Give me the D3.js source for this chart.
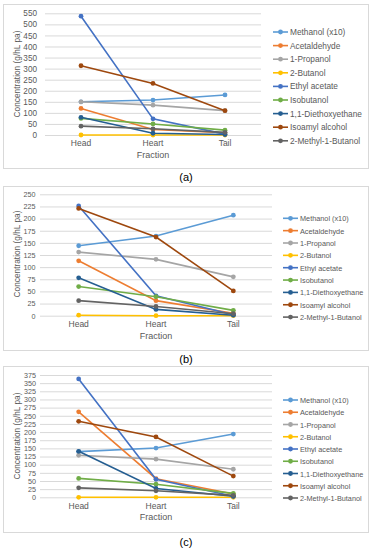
<!DOCTYPE html>
<html><head><meta charset="utf-8">
<script src="https://cdn.jsdelivr.net/npm/d3@7"></script>
<style>body{margin:0;background:#fff;}svg{display:block;}</style>
</head><body>
<svg id="c" width="373" height="550"></svg>
<script>
const fractions = ["Head", "Heart", "Tail"];
const seriesNames = ["Methanol (x10)", "Acetaldehyde", "1-Propanol", "2-Butanol", "Ethyl acetate",
  "Isobutanol", "1,1-Diethoxyethane", "Isoamyl alcohol", "2-Methyl-1-Butanol"];
const colors = ["#5B9BD5", "#ED7D31", "#A5A5A5", "#FFC000", "#4472C4", "#70AD47", "#255E91", "#9E480E", "#636363"];

// Panel (a)
const valuesA = [
  [150, 158, 181],
  [120, 25, 10],
  [150, 135, 110],
  [0, 0, 0],
  [537, 73, 4],
  [75, 50, 22],
  [80, 8, 2],
  [313, 233, 110],
  [40, 28, 12]
];
const ticksA = [0, 50, 100, 150, 200, 250, 300, 350, 400, 450, 500, 550];
// Panel (b)
const valuesB = [
  [144, 164, 207],
  [113, 31, 5],
  [131, 116, 80],
  [1, 0, 0],
  [226, 41, 2],
  [60, 39, 11],
  [78, 13, 1],
  [221, 162, 51],
  [31, 19, 4]
];
const ticksB = [0, 25, 50, 75, 100, 125, 150, 175, 200, 225, 250];
// Panel (c)
const valuesC = [
  [140, 151, 194],
  [262, 57, 10],
  [129, 117, 86],
  [0, 0, 0],
  [363, 55, 3],
  [58, 40, 12],
  [141, 27, 3],
  [233, 185, 65],
  [29, 20, 6]
];
const ticksC = [0, 25, 50, 75, 100, 125, 150, 175, 200, 225, 250, 275, 300, 325, 350, 375];

const panels = [
  {vals: valuesA, ticks: ticksA, label: "(a)", box: [3, 4, 368, 168], px: [45, 261], py: [135, 13.3],
   tickEnd: 37, tickFs: 8.2, legFs: 8.3, legX: 273, legY: 32, legDy: 13.6, catY: 147, fracY: 158, titleY: 74, labY: 181},
  {vals: valuesB, ticks: ticksB, label: "(b)", box: [3, 186, 368, 350], px: [40, 272], py: [315.7, 194.3],
   tickEnd: 35.5, tickFs: 7.2, legFs: 7.3, legX: 283, legY: 218.3, legDy: 12.35, catY: 328, fracY: 339, titleY: 254, labY: 363},
  {vals: valuesC, ticks: ticksC, label: "(c)", box: [3, 366, 368, 532], px: [40, 272], py: [497.3, 375],
   tickEnd: 36, tickFs: 7.2, legFs: 7.3, legX: 283, legY: 400, legDy: 12.25, catY: 509.5, fracY: 520, titleY: 436, labY: 546}
];

const svg = d3.select("#c");
const font = "'Liberation Sans', Arial, sans-serif";
const txt = "#595959";

panels.forEach(p => {
  const g = svg.append("g");
  g.append("rect").attr("x", p.box[0] + 0.5).attr("y", p.box[1] + 0.5)
    .attr("width", p.box[2] - p.box[0]).attr("height", p.box[3] - p.box[1])
    .attr("fill", "#fff").attr("stroke", "#d9d9d9");

  const x = d3.scaleBand().domain(fractions).range(p.px);
  const y = d3.scaleLinear().domain([0, d3.max(p.ticks)]).range(p.py);

  // gridlines
  const yAxis = d3.axisLeft(y).tickValues(p.ticks).tickSize(-(p.px[1] - p.px[0])).tickPadding(p.px[0] - p.tickEnd);
  const ga = g.append("g").attr("transform", `translate(${p.px[0]},0)`).call(yAxis);
  ga.select(".domain").remove();
  ga.selectAll(".tick line").attr("stroke", "#d9d9d9");
  ga.selectAll(".tick text").attr("fill", txt).attr("font-size", p.tickFs).attr("font-family", font);

  // x axis labels
  const xAxis = d3.axisBottom(x).tickSize(0).tickPadding(0);
  const gx = g.append("g").attr("transform", `translate(0,${p.catY - 7})`).call(xAxis);
  gx.select(".domain").remove();
  gx.selectAll(".tick text").attr("fill", txt).attr("font-size", 8.5).attr("font-family", font);

  g.append("text").attr("x", (p.px[0] + p.px[1]) / 2).attr("y", p.fracY)
    .attr("text-anchor", "middle").attr("fill", txt).attr("font-size", 9).attr("font-family", font)
    .text("Fraction");
  g.append("text").attr("transform", `translate(19.5,${p.titleY}) rotate(-90)`)
    .attr("text-anchor", "middle").attr("fill", txt).attr("font-size", 8.3).attr("font-family", font)
    .text("Concentration (g/hL pa)");

  const line = d3.line().x((d, i) => x(fractions[i]) + x.bandwidth() / 2).y(d => y(d));
  p.vals.forEach((s, si) => {
    g.append("path").attr("d", line(s)).attr("fill", "none")
      .attr("stroke", colors[si]).attr("stroke-width", 1.6);
    g.selectAll(null).data(s).enter().append("circle")
      .attr("cx", (d, i) => x(fractions[i]) + x.bandwidth() / 2)
      .attr("cy", d => y(d)).attr("r", 2.4).attr("fill", colors[si]);
  });

  // legend
  seriesNames.forEach((n, i) => {
    const ly = p.legY + i * p.legDy;
    g.append("line").attr("x1", p.legX).attr("x2", p.legX + 15).attr("y1", ly).attr("y2", ly)
      .attr("stroke", colors[i]).attr("stroke-width", 1.6);
    g.append("circle").attr("cx", p.legX + 7.5).attr("cy", ly).attr("r", 2.4).attr("fill", colors[i]);
    g.append("text").attr("x", p.legX + 17).attr("y", ly + 3).attr("fill", txt)
      .attr("font-size", p.legFs).attr("font-family", font).text(n);
  });

  svg.append("text").attr("x", 186).attr("y", p.labY).attr("text-anchor", "middle")
    .attr("fill", "#000").attr("font-size", 11).attr("font-family", font).text(p.label);
});
</script>
</body></html>
